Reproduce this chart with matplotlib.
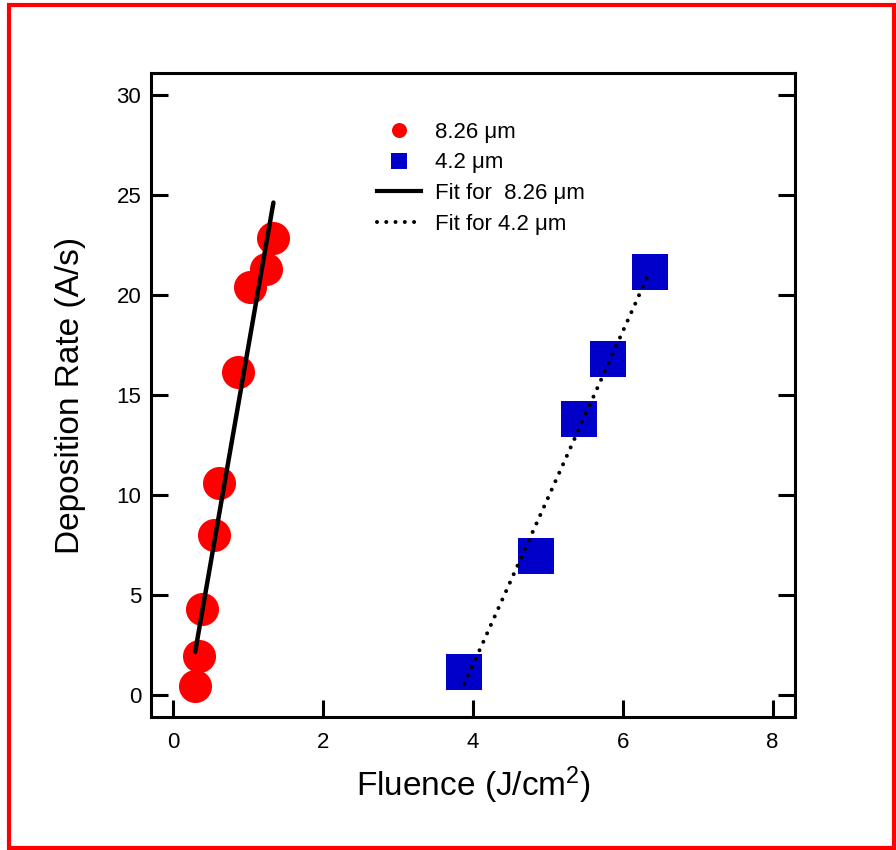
import numpy as np
import matplotlib
matplotlib.use('Agg')
import matplotlib.pyplot as plt
from matplotlib.lines import Line2D
from matplotlib.patches import Rectangle

plt.rcParams['font.family'] = ['Liberation Sans', 'DejaVu Sans']
plt.rcParams['mathtext.fontset'] = 'custom'
plt.rcParams['mathtext.rm'] = 'Liberation Sans'
plt.rcParams['mathtext.default'] = 'regular'

# 8.26 um data (red circles)
fluence_826 = [0.285, 0.338, 0.383, 0.547, 0.613, 0.857, 1.023, 1.24, 1.324]
rate_826 = [0.47, 1.97, 4.3, 8.0, 10.59, 16.17, 20.42, 21.3, 22.84]

# 4.2 um data (blue squares)
fluence_42 = [3.884, 4.84, 5.413, 5.804, 6.364]
rate_42 = [1.165, 6.97, 13.8, 16.8, 21.13]

# linear fits: slope, intercept, x range
fit_826 = (21.5, -4.08)
fit_826_range = [0.29, 1.335]
fit_42 = (8.333, -31.82)
fit_42_range = [3.884, 6.356]

xticks = [0, 2, 4, 6, 8]
yticks = [0, 5, 10, 15, 20, 25, 30]

red = '#ff0000'
blue = '#0000c8'

fig = plt.figure(figsize=(8.96, 8.5), dpi=100)
ax = fig.add_axes([151 / 896, 1 - 717 / 850, 644 / 896, 644 / 850])

ax.plot(fluence_826, rate_826, 'o', color=red, ms=23.8, mew=0, zorder=2)
ax.plot(fluence_42, rate_42, 's', color=blue, ms=26.6, mew=0, zorder=2)

x1 = np.array(fit_826_range)
ax.plot(x1, fit_826[0] * x1 + fit_826[1], color='black', lw=3.2,
        solid_capstyle='round', zorder=3)
x2 = np.array(fit_42_range)
ax.plot(x2, fit_42[0] * x2 + fit_42[1], color='black', lw=2.9,
        linestyle=(0, (0.001, 2.3)), dash_capstyle='round', zorder=3)

ax.set_xlim(-0.3, 8.3)
ax.set_ylim(-1.1, 31.1)
ax.set_xticks(xticks)
ax.set_yticks(yticks)
ax.tick_params(axis='both', direction='in', length=12, width=2.2,
               labelsize=16, color='black')
ax.tick_params(axis='y', right=True, pad=7)
ax.tick_params(axis='x', pad=11)
for s in ax.spines.values():
    s.set_linewidth(2.2)

ax.set_xlabel('Fluence (J/cm$^2$)', fontsize=24, labelpad=8)
ax.set_ylabel('Deposition Rate (A/s)', fontsize=24, labelpad=22)

handles = [
    Line2D([], [], marker='o', color=red, ls='none', ms=10.8, mew=0),
    Line2D([], [], marker='s', color=blue, ls='none', ms=11.5, mew=0),
    Line2D([], [], color='black', lw=3),
    Line2D([], [], color='black', lw=2.9, linestyle=(0, (0.001, 2.3)),
           dash_capstyle='round'),
]
labels = ['8.26 μm', '4.2 μm', 'Fit for  8.26 μm', 'Fit for 4.2 μm']
ax.legend(handles, labels, loc='upper left', bbox_to_anchor=(0.351, 0.924),
          frameon=False, fontsize=16, handlelength=2.0, handletextpad=0.6,
          labelspacing=0.43, borderpad=0, borderaxespad=0)

fig.add_artist(Rectangle((9 / 896, 2 / 850), 885 / 896, 843 / 850,
                         transform=fig.transFigure, fill=False,
                         edgecolor=red, lw=3))

fig.savefig('out.png', dpi=100)
